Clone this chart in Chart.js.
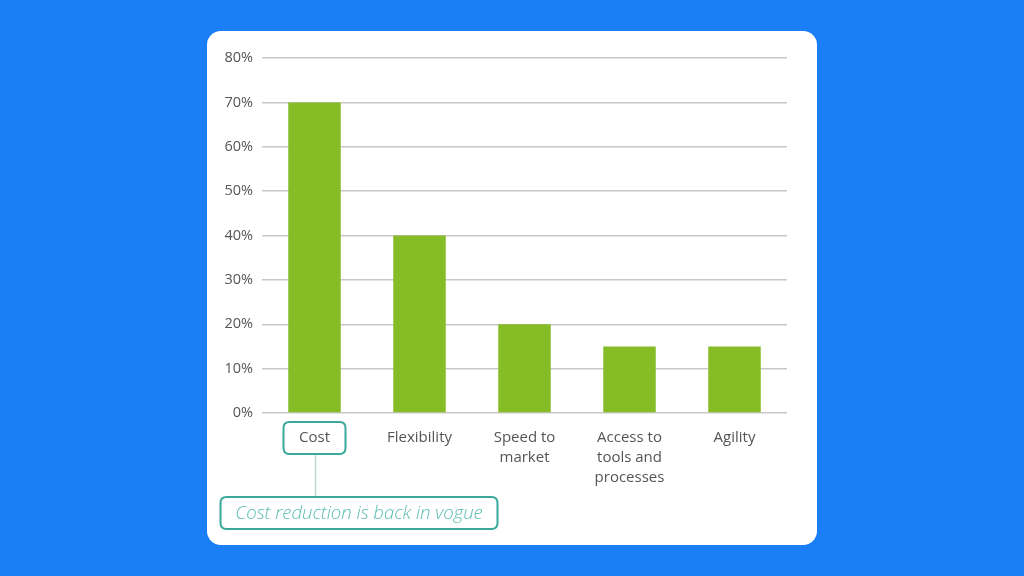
<!DOCTYPE html>
<html>
<head>
<meta charset="utf-8">
<script src="https://cdn.jsdelivr.net/npm/chart.js@4/dist/chart.umd.min.js"></script>
<style>
  html,body{margin:0;padding:0;width:1024px;height:576px;background:#1a7ef6;overflow:hidden;}
  #card{position:absolute;left:207px;top:31px;width:610px;height:514px;background:#fff;border-radius:14px;overflow:hidden;}
  canvas{display:block;}
</style>
</head>
<body>
<div id="card"><canvas id="c" width="610" height="514"></canvas></div>
<script>
const categories = [["Cost"], ["Flexibility"], ["Speed to", "market"], ["Access to", "tools and", "processes"], ["Agility"]];
const values = [70, 40, 20, 15, 15];
const yTicks = [0, 10, 20, 30, 40, 50, 60, 70, 80];
const calloutText = "Cost reduction is back in vogue";

const FONT = "'Open Sans', 'Noto Sans', sans-serif";

const calloutPlugin = {
  id: 'callout',
  afterDraw(chart) {
    const ctx = chart.ctx;
    const xs = chart.scales.x;
    const area = chart.chartArea;
    const cx = xs.getPixelForValue(0);
    const teal = '#3aa99c';
    function rr(x, y, w, h, r) {
      ctx.beginPath();
      ctx.moveTo(x + r, y);
      ctx.lineTo(x + w - r, y);
      ctx.quadraticCurveTo(x + w, y, x + w, y + r);
      ctx.lineTo(x + w, y + h - r);
      ctx.quadraticCurveTo(x + w, y + h, x + w - r, y + h);
      ctx.lineTo(x + r, y + h);
      ctx.quadraticCurveTo(x, y + h, x, y + h - r);
      ctx.lineTo(x, y + r);
      ctx.quadraticCurveTo(x, y, x + r, y);
      ctx.closePath();
    }
    ctx.save();
    const b1w = 62, b1h = 32, b1top = area.bottom + 9;
    ctx.strokeStyle = teal;
    ctx.lineWidth = 2;
    rr(cx - b1w / 2, b1top, b1w, b1h, 6);
    ctx.stroke();
    const b2top = area.bottom + 84;
    ctx.strokeStyle = '#b9d9d5';
    ctx.lineWidth = 1.5;
    ctx.beginPath();
    ctx.moveTo(cx + 1, b1top + b1h + 1);
    ctx.lineTo(cx + 1, b2top);
    ctx.stroke();
    const b2left = cx - 94, b2w = 277, b2h = 32;
    ctx.strokeStyle = teal;
    ctx.lineWidth = 2;
    rr(b2left, b2top, b2w, b2h, 6);
    ctx.stroke();
    ctx.fillStyle = '#5cbdb1';
    ctx.font = "italic 300 18.5px " + FONT;
    ctx.textAlign = 'center';
    ctx.textBaseline = 'middle';
    ctx.fillText(calloutText, b2left + b2w / 2, b2top + b2h / 2 + 1);
    ctx.restore();
  }
};

new Chart(document.getElementById('c'), {
  type: 'bar',
  data: {
    labels: categories,
    datasets: [{
      data: values,
      backgroundColor: '#86bc25',
      borderWidth: 0,
      barPercentage: 0.5,
      categoryPercentage: 1.0
    }]
  },
  options: {
    responsive: false,
    animation: false,
    layout: { padding: { left: 0, right: 30, top: 27, bottom: 0 } },
    plugins: { legend: { display: false }, tooltip: { enabled: false } },
    scales: {
      x: {
        grid: { display: false, drawTicks: false },
        border: { display: false },
        ticks: {
          color: '#555555',
          font: { family: FONT, size: 15, lineHeight: 1.33 },
          padding: 15,
          maxRotation: 0,
          autoSkip: false
        },
        afterFit(s) { s.height = 132; }
      },
      y: {
        min: 0, max: 80,
        afterBuildTicks(s) { s.ticks = yTicks.map(v => ({ value: v })); },
        grid: { color: '#c8c8c8', lineWidth: 1.5, drawTicks: false },
        border: { display: false },
        ticks: {
          color: '#555555',
          font: { family: FONT, size: 14.5 },
          padding: 9,
          callback: v => v + '%'
        },
        afterFit(s) { s.width = 55; }
      }
    }
  },
  plugins: [calloutPlugin]
});
</script>
</body>
</html>
